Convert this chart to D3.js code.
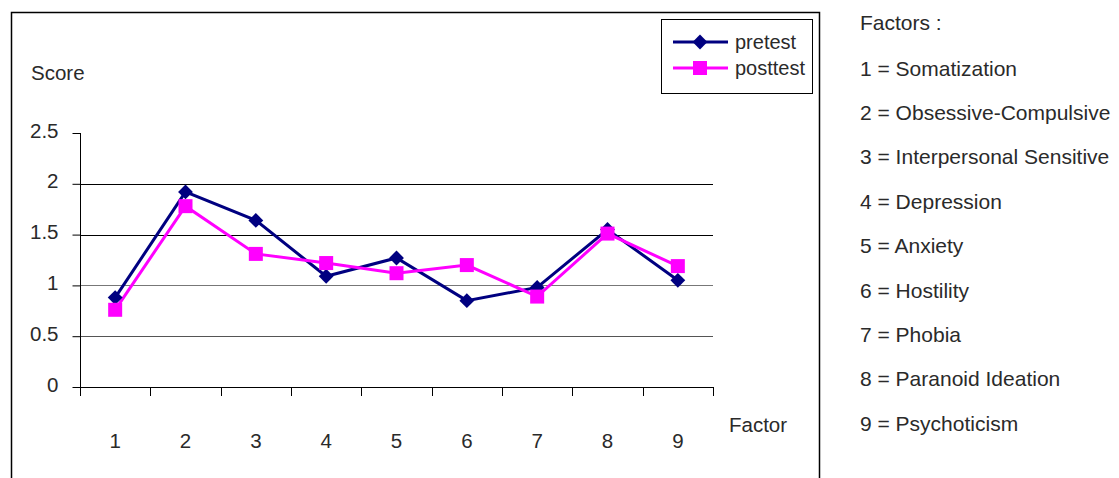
<!DOCTYPE html>
<html>
<head>
<meta charset="utf-8">
<script src="https://cdn.jsdelivr.net/npm/d3@7"></script>
<style>
html,body{margin:0;padding:0;background:#fff;}
svg text{font-family:"Liberation Sans",Arial,sans-serif;fill:#2a2a2a;}
</style>
</head>
<body>
<svg id="chart" width="1119" height="478"></svg>
<script>
const categories = ["1","2","3","4","5","6","7","8","9"];
const pretest  = [0.88, 1.92, 1.64, 1.09, 1.27, 0.85, 0.98, 1.55, 1.05];
const posttest = [0.76, 1.78, 1.31, 1.22, 1.12, 1.20, 0.89, 1.51, 1.19];
const yTicks = [0, 0.5, 1, 1.5, 2, 2.5];
const yTickLabels = ["0", "0.5", "1", "1.5", "2", "2.5"];
const seriesNames = ["pretest", "posttest"];
const factorNames = ["Somatization", "Obsessive-Compulsive", "Interpersonal Sensitive",
  "Depression", "Anxiety", "Hostility", "Phobia", "Paranoid Ideation", "Psychoticism"];

const svg = d3.select("#chart");
const fs = 20.5;

// outer chart frame (left, top, right; bottom clipped)
svg.append("path")
  .attr("d", "M11.5,480 L11.5,12.5 L819.5,12.5 L819.5,480")
  .attr("fill", "none").attr("stroke", "#000").attr("stroke-width", 1.5);

const x = d3.scaleBand().domain(categories).range([80, 713]);
const y = d3.scaleLinear().domain([0, 2.5]).range([387, 133]);

// gridlines
const gridColor = {0.5: "#555", 1: "#777", 1.5: "#000", 2: "#000"};
svg.append("g").selectAll("line")
  .data(yTicks.filter(d => d > 0 && d < 2.5))
  .join("line")
  .attr("x1", 80).attr("x2", 713)
  .attr("y1", d => Math.round(y(d)) + 0.5).attr("y2", d => Math.round(y(d)) + 0.5)
  .attr("stroke", d => gridColor[d]).attr("stroke-width", 1);

// y axis
const yAxis = d3.axisLeft(y).tickValues(yTicks).tickSize(8)
  .tickFormat((d, i) => yTickLabels[i]);
const gy = svg.append("g").attr("transform", "translate(80.5,0)").call(yAxis);
gy.select(".domain").attr("stroke", "#000").attr("d", "M0," + y(2.5) + "V" + y(0));
gy.selectAll(".tick line").attr("stroke", "#000");
gy.selectAll(".tick text").attr("x", -22).attr("dy", "0.2em")
  .style("font-size", fs + "px").style("font-family", '"Liberation Sans",Arial,sans-serif').attr("fill", "#2a2a2a");

// x axis
const boundaries = categories.map(c => x(c)).concat([x.range()[1]]);
const gx = svg.append("g");
gx.append("line").attr("x1", 80).attr("x2", 713.5)
  .attr("y1", y(0) + 0.5).attr("y2", y(0) + 0.5).attr("stroke", "#000");
gx.selectAll("line.tk").data(boundaries).join("line").attr("class", "tk")
  .attr("x1", d => Math.round(d) + 0.5).attr("x2", d => Math.round(d) + 0.5)
  .attr("y1", y(0)).attr("y2", y(0) + 9).attr("stroke", "#000");
gx.selectAll("text").data(categories).join("text")
  .attr("x", d => x(d) + x.bandwidth() / 2).attr("y", 448)
  .attr("text-anchor", "middle").style("font-size", fs + "px").text(d => d);

svg.append("text").attr("x", 31).attr("y", 80).style("font-size", fs + "px").text("Score");
svg.append("text").attr("x", 729).attr("y", 432).style("font-size", fs + "px").text("Factor");

const cx = (d, i) => x(categories[i]) + x.bandwidth() / 2;
const line = d3.line().x((d, i) => cx(d, i)).y(d => y(d));

const navy = "#000080", magenta = "#FF00FF";
const diamond = d3.symbol().type(d3.symbolDiamond2).size(140);

// pretest
svg.append("path").datum(pretest).attr("d", line)
  .attr("fill", "none").attr("stroke", navy).attr("stroke-width", 3).attr("stroke-linejoin", "miter");
// posttest
svg.append("path").datum(posttest).attr("d", line)
  .attr("fill", "none").attr("stroke", magenta).attr("stroke-width", 3);

svg.append("g").selectAll("path").data(pretest).join("path")
  .attr("d", diamond)
  .attr("transform", (d, i) => `translate(${cx(d, i)},${y(d)})`)
  .attr("fill", navy);
svg.append("g").selectAll("rect").data(posttest).join("rect")
  .attr("x", (d, i) => cx(d, i) - 7).attr("y", d => y(d) - 7)
  .attr("width", 14).attr("height", 14).attr("fill", magenta);

// legend
const lg = svg.append("g");
lg.append("rect").attr("x", 661.5).attr("y", 19.5).attr("width", 151).attr("height", 74)
  .attr("fill", "#fff").attr("stroke", "#000").attr("stroke-width", 1);
const legendY = [42, 68];
const legendColor = [navy, magenta];
seriesNames.forEach((name, i) => {
  lg.append("line").attr("x1", 673).attr("x2", 728).attr("y1", legendY[i]).attr("y2", legendY[i])
    .attr("stroke", legendColor[i]).attr("stroke-width", 3);
  if (i === 0) {
    lg.append("path").attr("d", diamond).attr("transform", `translate(700,${legendY[i]})`).attr("fill", navy);
  } else {
    lg.append("rect").attr("x", 693).attr("y", legendY[i] - 7).attr("width", 14).attr("height", 14).attr("fill", magenta);
  }
  lg.append("text").attr("x", 735).attr("y", legendY[i] + 7).style("font-size", "20px").text(name);
});

// factor list
const fl = svg.append("g");
fl.append("text").attr("x", 860).attr("y", 30).style("font-size", "21px").text("Factors :");
fl.selectAll("text.f").data(factorNames).join("text").attr("class", "f")
  .attr("x", 860).attr("y", (d, i) => 75.5 + i * 44.4)
  .style("font-size", "21px").text((d, i) => categories[i] + " = " + d);
</script>
</body>
</html>
